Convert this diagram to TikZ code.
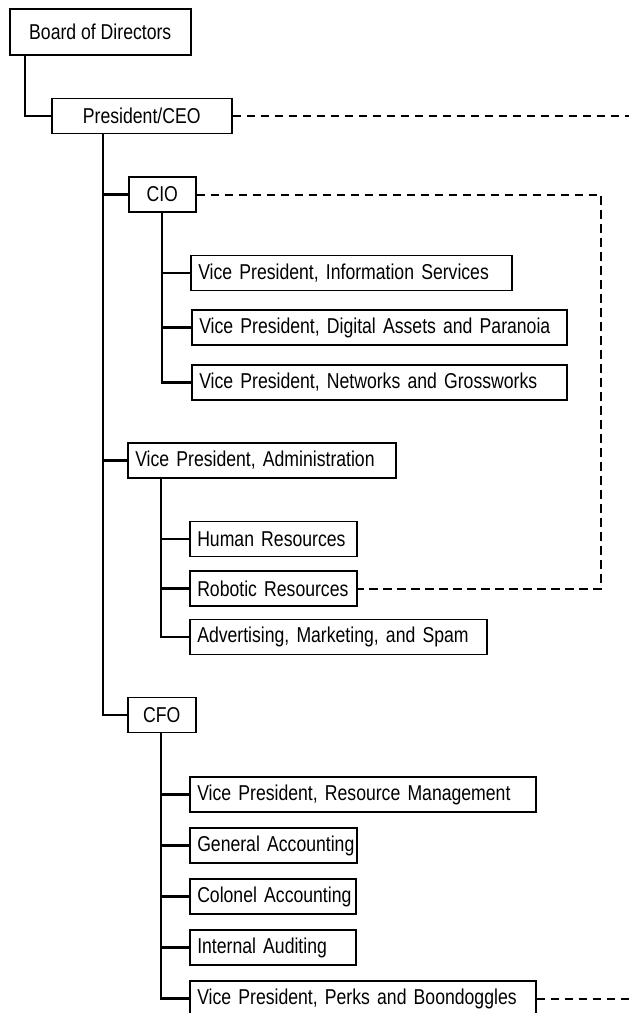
\documentclass[tikz,border=0pt]{standalone}
\usepackage{fontspec}
\setmainfont{Liberation Sans}[FakeStretch=0.82]
\begin{document}
\begin{tikzpicture}[x=1pt,y=-1pt,
  box/.style={draw, line width=1.5pt, anchor=west, minimum height=35pt, inner xsep=7.5pt, inner ysep=0pt,
    font=\fontsize{21.5}{24}\selectfont, align=left},
  cbox/.style={draw, line width=1.5pt, anchor=west, minimum height=35pt, inner sep=0pt,
    font=\fontsize{21.5}{24}\selectfont},
  link/.style={line width=2.3pt},
  dlink/.style={line width=2pt, dash pattern=on 8.5pt off 5.5pt}]
\useasboundingbox (0,0) rectangle (629,1013);
% nodes
\node[cbox, minimum width=181pt, minimum height=46pt] (board) at (9,32) {Board of Directors};
\node[cbox, minimum width=180pt] (ceo) at (51,116) {President/CEO};
\node[cbox, minimum width=67pt] (cio) at (128,194.5) {CIO};
\node[box, text width=306pt] (vpis) at (190,273) {\mbox{Vice President, Information Services}};
\node[box, text width=360pt] (vpda) at (191,327.5) {\mbox{Vice President, Digital Assets and Paranoia}};
\node[box, text width=360pt] (vpng) at (191,382.5) {\mbox{Vice President, Networks and Grossworks}};
\node[box, text width=253pt] (vpa) at (127,460.5) {\mbox{Vice President, Administration}};
\node[box, text width=152pt] (hr) at (189,539) {\mbox{Human Resources}};
\node[box, text width=152pt] (rr) at (189,588.5) {\mbox{Robotic Resources}};
\node[box, text width=282pt] (ams) at (189,637) {\mbox{Advertising, Marketing, and Spam}};
\node[cbox, minimum width=68pt] (cfo) at (127,715) {CFO};
\node[box, text width=331pt] (vprm) at (189,794.5) {\mbox{Vice President, Resource Management}};
\node[box, text width=152pt] (ga) at (189,845.5) {\mbox{General Accounting}};
\node[box, text width=151pt] (ca) at (189,896.5) {\mbox{Colonel Accounting}};
\node[box, text width=151pt] (ia) at (189,947.5) {\mbox{Internal Auditing}};
\node[box, text width=331pt] (perks) at (189,998.5) {\mbox{Vice President, Perks and Boondoggles}};
% trunk coordinates
\coordinate (bt) at ([xshift=16pt]board.south west);
\coordinate (ct) at ([xshift=52pt]ceo.south west);
\coordinate (it) at ([xshift=34pt]cio.south west);
\coordinate (at) at ([xshift=34pt]vpa.south west);
\coordinate (ft) at ([xshift=34pt]cfo.south west);
\coordinate (ceoend) at (629,116);
\coordinate (cioturn) at (601,588.5);
\coordinate (perksend) at (629,998.5);
% solid connectors
\draw[link] (bt) |- (ceo.west);
\draw[link] (ct) |- (cio.west);
\draw[link] (ct) |- (vpa.west);
\draw[link] (ct) |- (cfo.west);
\draw[link] (it) |- (vpis.west);
\draw[link] (it) |- (vpda.west);
\draw[link] (it) |- (vpng.west);
\draw[link] (at) |- (hr.west);
\draw[link] (at) |- (rr.west);
\draw[link] (at) |- (ams.west);
\draw[link] (ft) |- (vprm.west);
\draw[link] (ft) |- (ga.west);
\draw[link] (ft) |- (ca.west);
\draw[link] (ft) |- (ia.west);
\draw[link] (ft) |- (perks.west);
% dashed connectors
\draw[dlink] (ceo.east) -- (ceoend);
\draw[dlink] (cio.east) -| (cioturn) -- (rr.east);
\draw[dlink] (perks.east) -- (perksend);
\end{tikzpicture}
\end{document}
